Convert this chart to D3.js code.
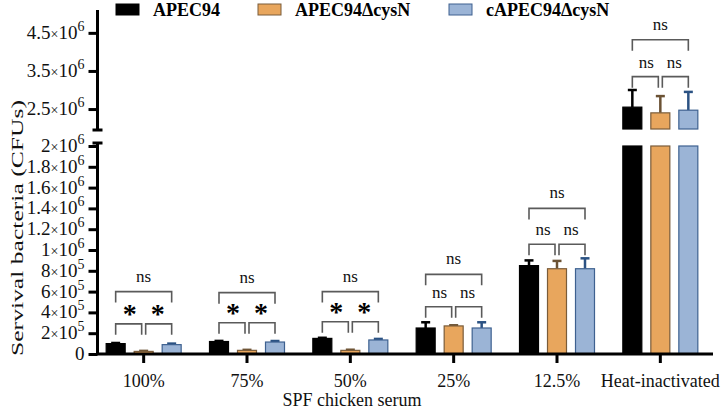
<!DOCTYPE html>
<html>
<head>
<meta charset="utf-8">
<script src="https://cdn.jsdelivr.net/npm/d3@7"></script>
<style>
  body { margin: 0; background: #fff; }
  svg { display: block; }
  svg text { font-family: "Liberation Serif", "Times New Roman", serif; }
</style>
</head>
<body>
<svg id="chart" width="723" height="413"></svg>
<script>
// data
var categories = ["100%", "75%", "50%", "25%", "12.5%", "Heat-inactivated"];
var seriesNames = ["APEC94", "APEC94\u0394cysN", "cAPEC94\u0394cysN"];
var apec94     = [0.10e6, 0.12e6, 0.15e6, 0.25e6, 0.85e6, 2.55e6];
var apec94Err  = [0.006e6, 0.006e6, 0.006e6, 0.055e6, 0.05e6, 0.45e6];
var mutant     = [0.025e6, 0.035e6, 0.035e6, 0.27e6, 0.82e6, 2.40e6];
var mutantErr  = [0.005e6, 0.005e6, 0.006e6, 0.006e6, 0.075e6, 0.44e6];
var comp       = [0.09e6, 0.115e6, 0.135e6, 0.25e6, 0.82e6, 2.47e6];
var compErr    = [0.01e6, 0.01e6, 0.01e6, 0.055e6, 0.10e6, 0.48e6];
// significance labels and bracket heights
var pairSig    = ["*", "*", "*", "ns", "ns", "ns"];
var outerSig   = ["ns", "ns", "ns", "ns", "ns", "ns"];
var pairLevel  = [0.29e6, 0.30e6, 0.31e6, 0.455e6, 1.055e6, 3.35e6];
var outerLevel = [0.60e6, 0.59e6, 0.60e6, 0.766e6, 1.40e6, 4.32e6];
var lowTicks  = [0, 2e5, 4e5, 6e5, 8e5, 1e6, 1.2e6, 1.4e6, 1.6e6, 1.8e6, 2e6];
var highTicks = [2.5e6, 3.5e6, 4.5e6];

var fills   = ["#000000", "#E8A65D", "#9BB4D6"];
var strokes = ["#000000", "#7A5C3A", "#3E6190"];
var errCols = ["#000000", "#6B5234", "#2B5283"];

var svg = d3.select("#chart");
var serif = "Liberation Serif";

// scales
var x = d3.scaleBand().domain(categories).range([92, 712]);
var xSub = d3.scalePoint().domain(seriesNames).range([-28, 28]);
var barW = 19;
var yLow = d3.scaleLinear().domain([0, 2e6]).range([354, 146]);
var yHigh = d3.scaleLinear().domain([1.95e6, 5.1e6]).range([130, 10]);
function yPos(v) { return v <= 2e6 ? yLow(v) : yHigh(v); }

var axisX = 97.5;

// y tick labels like 1.8×10^6
function addLabel(g, v, yy) {
    var t = g.append("text")
        .attr("x", axisX - 13)
        .attr("y", yy + 6)
        .attr("text-anchor", "end")
        .style("font-family", serif)
        .style("font-size", "19px")
        .attr("fill", "#111");
    if (v === 0) { t.text("0"); return; }
    var e = Math.floor(Math.log10(v) + 1e-9);
    var m = +(v / Math.pow(10, e)).toFixed(1);
    t.append("tspan").text(m);
    t.append("tspan").style("font-size", "14px").text("\u00d7");
    t.append("tspan").text("10");
    t.append("tspan").attr("dy", -8).style("font-size", "14px").text(e);
}

// y axes (two segments)
var gLow = svg.append("g").attr("transform", "translate(" + axisX + ",0)")
    .call(d3.axisLeft(yLow).tickValues(lowTicks).tickSize(9).tickFormat(""));
var gHigh = svg.append("g").attr("transform", "translate(" + axisX + ",0)")
    .call(d3.axisLeft(yHigh).tickValues(highTicks).tickSize(9).tickFormat(""));
[gLow, gHigh].forEach(function(g) {
    g.select(".domain").remove();
    g.selectAll(".tick line").attr("stroke", "#000").attr("stroke-width", 3);
});
lowTicks.forEach(function(v) { addLabel(svg, v, yLow(v)); });
highTicks.forEach(function(v) { addLabel(svg, v, yHigh(v)); });

// axis segments with caps at the break
svg.append("line").attr("x1", axisX).attr("x2", axisX).attr("y1", 10).attr("y2", 130)
    .attr("stroke", "#000").attr("stroke-width", 3);
svg.append("line").attr("x1", axisX - 5).attr("x2", axisX + 5).attr("y1", 130).attr("y2", 130)
    .attr("stroke", "#000").attr("stroke-width", 3);
svg.append("line").attr("x1", axisX).attr("x2", axisX).attr("y1", 143).attr("y2", 355)
    .attr("stroke", "#000").attr("stroke-width", 3);
svg.append("line").attr("x1", axisX - 5).attr("x2", axisX + 5).attr("y1", 143).attr("y2", 143)
    .attr("stroke", "#000").attr("stroke-width", 3);

// x axis
var gx = svg.append("g").attr("transform", "translate(0,354)")
    .call(d3.axisBottom(x).tickSize(9).tickSizeOuter(0));
gx.select(".domain").remove();
gx.selectAll(".tick line").attr("stroke", "#000").attr("stroke-width", 3);
gx.selectAll(".tick text")
    .attr("y", 33).attr("dy", 0)
    .style("font-size", "18px").style("font-family", serif).attr("fill", "#111");

// bars
var series = [
    {name: seriesNames[0], vals: apec94, errs: apec94Err},
    {name: seriesNames[1], vals: mutant, errs: mutantErr},
    {name: seriesNames[2], vals: comp, errs: compErr}
];
series.forEach(function(s, si) {
    categories.forEach(function(c, ci) {
        var cx = x(c) + x.bandwidth() / 2 + xSub(s.name);
        var v = s.vals[ci], err = s.errs[ci];
        var g = svg.append("g");
        // error bar (drawn under the bar)
        var yTop = yPos(v + err);
        g.append("line").attr("x1", cx).attr("x2", cx).attr("y1", yPos(v)).attr("y2", yTop)
            .attr("stroke", errCols[si]).attr("stroke-width", 2.5);
        g.append("line").attr("x1", cx - 4.5).attr("x2", cx + 4.5).attr("y1", yTop).attr("y2", yTop)
            .attr("stroke", errCols[si]).attr("stroke-width", 2.5);
        if (v <= 2e6) {
            g.append("rect").attr("x", cx - barW / 2).attr("width", barW)
                .attr("y", yLow(v)).attr("height", yLow(0) - yLow(v))
                .attr("fill", fills[si]).attr("stroke", strokes[si]).attr("stroke-width", 1.2);
        } else {
            g.append("rect").attr("x", cx - barW / 2).attr("width", barW)
                .attr("y", yLow(2e6)).attr("height", yLow(0) - yLow(2e6))
                .attr("fill", fills[si]).attr("stroke", strokes[si]).attr("stroke-width", 1.2);
            g.append("rect").attr("x", cx - barW / 2).attr("width", barW)
                .attr("y", yHigh(v)).attr("height", yHigh(1.95e6) - yHigh(v) - 1)
                .attr("fill", fills[si]).attr("stroke", strokes[si]).attr("stroke-width", 1.2);
        }
    });
});
// baseline over the bars
svg.append("line").attr("x1", axisX - 1.5).attr("x2", 713).attr("y1", 354).attr("y2", 354)
    .attr("stroke", "#000").attr("stroke-width", 3);

// significance brackets
function bracket(x1, x2, yy) {
    var legs = 11;
    svg.append("path")
        .attr("d", "M" + x1 + "," + (yy + legs) + "V" + yy + "H" + x2 + "V" + (yy + legs))
        .attr("fill", "none").attr("stroke", "#5a5a5a").attr("stroke-width", 1.6);
}
function sigText(label, cx, yy) {
    if (label === "*") {
        svg.append("text").attr("x", cx).attr("y", yy + 13).attr("text-anchor", "middle")
            .style("font-family", serif)
            .style("font-size", "28px").style("font-weight", "bold").attr("fill", "#000").text("*");
    } else {
        svg.append("text").attr("x", cx).attr("y", yy + 5).attr("text-anchor", "middle")
            .style("font-family", serif)
            .style("font-size", "17px").attr("fill", "#111").text(label);
    }
}
categories.forEach(function(c, ci) {
    var gc = x(c) + x.bandwidth() / 2;
    var xa = gc + xSub(seriesNames[0]), xb = gc + xSub(seriesNames[1]), xc = gc + xSub(seriesNames[2]);
    var yp = yPos(pairLevel[ci]), yo = yPos(outerLevel[ci]);
    bracket(xa, xb - 2, yp);
    bracket(xb + 2, xc, yp);
    bracket(xa, xc, yo);
    sigText(pairSig[ci], (xa + xb) / 2, yp - 14);
    sigText(pairSig[ci], (xb + xc) / 2, yp - 14);
    sigText(outerSig[ci], gc, yo - 15);
});

// axis titles
svg.append("text")
    .attr("transform", "translate(23,228) rotate(-90)")
    .attr("text-anchor", "middle")
    .attr("textLength", 256).attr("lengthAdjust", "spacingAndGlyphs")
    .style("font-family", serif)
    .style("font-size", "17px").attr("fill", "#111")
    .text("Servival bacteria (CFUs)");
svg.append("text")
    .attr("x", 352).attr("y", 406)
    .attr("text-anchor", "middle")
    .style("font-family", serif)
    .style("font-size", "18px").attr("fill", "#111")
    .text("SPF chicken serum");

// legend
var legendX = [116, 258, 449];
seriesNames.forEach(function(n, i) {
    svg.append("rect").attr("x", legendX[i]).attr("y", 4).attr("width", 23).attr("height", 11)
        .attr("fill", fills[i]).attr("stroke", strokes[i]).attr("stroke-width", 1);
    svg.append("text").attr("x", legendX[i] + 37).attr("y", 16)
        .style("font-family", serif)
        .style("font-size", "18px").style("font-weight", "bold").attr("fill", "#000")
        .text(n);
});
</script>
</body>
</html>
